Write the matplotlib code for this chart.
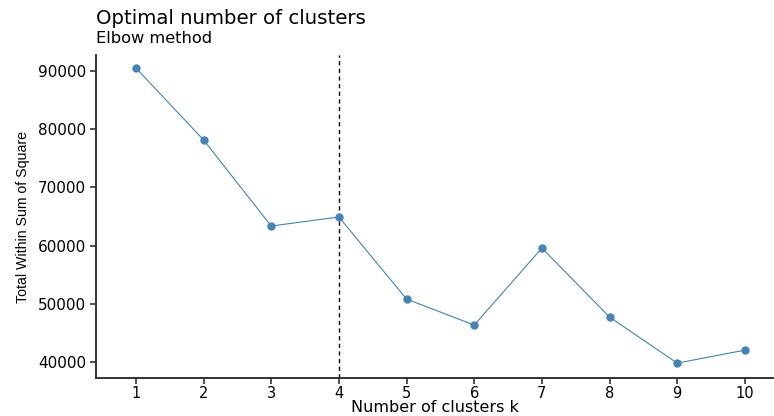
import matplotlib
matplotlib.use("Agg")
import matplotlib.pyplot as plt

k = [1, 2, 3, 4, 5, 6, 7, 8, 9, 10]
wss = [90500, 78150, 63370, 64920, 50830, 46360, 59590, 47730, 39830, 42060]
optimal_k = 4
yticks = [40000, 50000, 60000, 70000, 80000, 90000]

plt.rcParams["font.family"] = ["DejaVu Sans"]

fig = plt.figure(figsize=(7.74, 4.16), dpi=100)
ax = fig.add_axes([0.124, 0.091, 0.876, 0.777])

ax.plot(k, wss, color="#4682B4", linewidth=0.8, marker="o", markersize=5, zorder=3)
ax.axvline(optimal_k, color="black", linestyle=(0, (3, 2.5)), linewidth=1.0, zorder=2)

ax.set_xlim(0.41, 10.43)
ax.set_ylim(37250, 92750)
ax.set_xticks(k)
ax.set_xticklabels([str(v) for v in k])
ax.set_yticks(yticks)
ax.set_yticklabels([str(v) for v in yticks])

for s in ["top", "right"]:
    ax.spines[s].set_visible(False)
for s in ["left", "bottom"]:
    ax.spines[s].set_color("#333333")
    ax.spines[s].set_linewidth(1.4)
ax.tick_params(axis="both", direction="out", length=4, width=1.2, color="#333333",
               labelcolor="black")
ax.tick_params(axis="y", labelsize=11, pad=3)
ax.tick_params(axis="x", labelsize=10.5, pad=1.5)

ax.set_xlabel("Number of clusters k", fontsize=11.5, va="baseline")
ax.xaxis.set_label_coords(0.5, (378 - 412) / 323)
ax.set_ylabel("Total Within Sum of Square", fontsize=10.2,
              family=["Liberation Sans", "DejaVu Sans"], labelpad=6)

fig.text(0.124, 1 - 24 / 416, "Optimal number of clusters", fontsize=14.2, ha="left", va="baseline")
fig.text(0.124, 1 - 43 / 416, "Elbow method", fontsize=11.7, ha="left", va="baseline")

fig.savefig("out.png", dpi=100)
